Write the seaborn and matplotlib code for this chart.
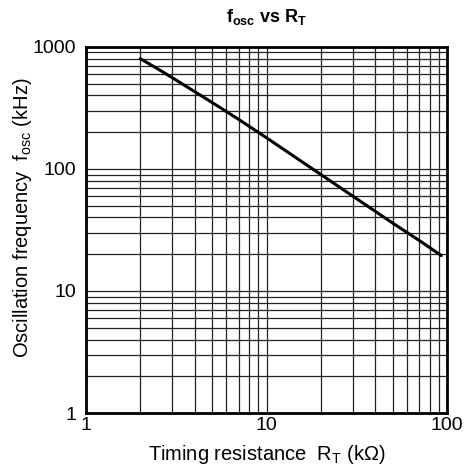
import numpy as np
import pandas as pd
import seaborn as sns
import matplotlib.pyplot as plt
from matplotlib.ticker import LogLocator, FixedLocator, NullFormatter

# valeurs (R_T en kOhm, f_osc en kHz)
rt_kohm = [2, 2.5, 3, 4, 5, 7, 10, 20, 30, 50, 70, 93]
fosc_khz = [800, 660, 560, 430, 350, 255, 180, 90, 60, 36, 26, 19.5]

x_ticks = [1, 10, 100]
y_ticks = [1, 10, 100, 1000]

sns.set_style("white")
plt.rcParams['font.family'] = ['Liberation Sans', 'DejaVu Sans']
plt.rcParams['mathtext.fontset'] = 'custom'
plt.rcParams['mathtext.rm'] = 'Liberation Sans'
plt.rcParams['mathtext.bf'] = 'Liberation Sans:bold'
plt.rcParams['text.color'] = 'black'
plt.rcParams['axes.labelcolor'] = 'black'
plt.rcParams['xtick.color'] = 'black'
plt.rcParams['ytick.color'] = 'black'

df = pd.DataFrame({'R': rt_kohm, 'f': fosc_khz})

fig = plt.figure(figsize=(4.69, 4.69), dpi=100)
ax = fig.add_axes([0.1834, 0.1194, 0.7697, 0.7806])

sns.lineplot(data=df, x='R', y='f', color='black', linewidth=2.2, ax=ax)
ax.set_xscale('log')
ax.set_yscale('log')
ax.set_xlim(1, 100)
ax.set_ylim(1, 1000)

ax.xaxis.set_major_locator(FixedLocator(x_ticks))
ax.yaxis.set_major_locator(FixedLocator(y_ticks))
ax.set_xticklabels([str(v) for v in x_ticks])
ax.set_yticklabels([str(v) for v in y_ticks])
ax.xaxis.set_minor_locator(LogLocator(base=10, subs=np.arange(2, 10)))
ax.yaxis.set_minor_locator(LogLocator(base=10, subs=np.arange(2, 10)))
ax.xaxis.set_minor_formatter(NullFormatter())
ax.yaxis.set_minor_formatter(NullFormatter())

ax.grid(True, which='both', color='#222222', linewidth=0.9)
ax.tick_params(which='both', length=0, labelsize=14)
ax.tick_params(axis='x', pad=3)
ax.tick_params(axis='y', pad=7)

for s in ax.spines.values():
    s.set_color('black')
    s.set_linewidth(2)

ax.set_xlabel(r'Timing resistance  R$\mathregular{_T}$ (k$\Omega$)', fontsize=14.5)
ax.set_ylabel(r'Oscillation frequency  f$\mathregular{_{osc}}$ (kHz)', fontsize=14.5)
ax.xaxis.set_label_coords(0.5, -0.083)
ax.yaxis.set_label_coords(-0.145, 0.533)
ax.set_title(r'f$\mathbf{_{osc}}$ vs R$\mathbf{_T}$', fontsize=13, fontweight='bold', pad=18)

fig.savefig('out.png', dpi=100)
